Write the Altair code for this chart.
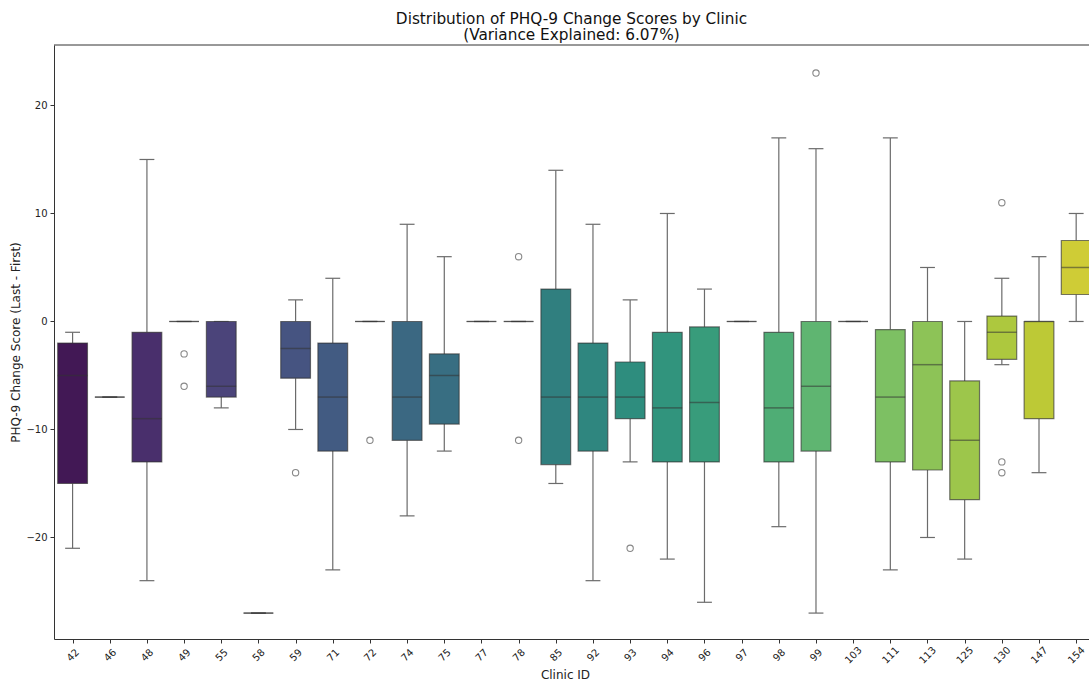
import altair as alt
import pandas as pd
import colorsys

# ---- data ----
clinics = ["42", "46", "48", "49", "55", "58", "59", "71", "72", "74", "75", "77", "78", "85",
           "92", "93", "94", "96", "97", "98", "99", "103", "111", "113", "125", "130", "147", "154"]
whislo = [-21, -7, -24, 0, -8, -27, -10, -23, 0, -18, -12, 0, 0, -15,
          -24, -13, -22, -26, 0, -19, -27, 0, -23, -20, -22, -4, -14, 0]
q1 = [-15, -7, -13, 0, -7, -27, -5.25, -12, 0, -11, -9.5, 0, 0, -13.25,
      -12, -9, -13, -13, 0, -13, -12, 0, -13, -13.75, -16.5, -3.5, -9, 2.5]
med = [-5, -7, -9, 0, -6, -27, -2.5, -7, 0, -7, -5, 0, 0, -7,
       -7, -7, -8, -7.5, 0, -8, -6, 0, -7, -4, -11, -1, 0, 5]
q3 = [-2, -7, -1, 0, 0, -27, 0, -2, 0, 0, -3, 0, 0, 3,
      -2, -3.75, -1, -0.5, 0, -1, 0, 0, -0.75, 0, -5.5, 0.5, 0, 7.5]
whishi = [-1, -7, 15, 0, 0, -27, 2, 4, 0, 9, 6, 0, 0, 14,
          9, 2, 10, 3, 0, 17, 16, 0, 17, 5, 0, 4, 6, 10]
outlier_clinic = ["49", "49", "59", "72", "78", "78", "93", "99", "130", "130", "130"]
outlier_value = [-3, -6, -14, -11, 6, -11, -21, 23, 11, -13, -14]

title_lines = ["Distribution of PHQ-9 Change Scores by Clinic", "(Variance Explained: 6.07%)"]

# ---- viridis palette (seaborn style, desaturated 0.75) ----
vir = ["#440154", "#471365", "#482475", "#463480", "#414487", "#3b528b", "#355f8d",
       "#2f6c8e", "#2a788e", "#25848e", "#21918c", "#1e9c89", "#22a884", "#2fb47c",
       "#44bf70", "#5ec962", "#7ad151", "#9bd93c", "#bddf26", "#dfe318", "#fde725"]


def h2r(h):
    return [int(h[i:i + 2], 16) / 255 for i in (1, 3, 5)]


def viridis(t):
    p = t * (len(vir) - 1)
    i = min(int(p), len(vir) - 2)
    f = p - i
    a, b = h2r(vir[i]), h2r(vir[i + 1])
    return [a[k] + (b[k] - a[k]) * f for k in range(3)]


def desat(rgb, prop=0.75):
    h, l, s = colorsys.rgb_to_hls(*rgb)
    r, g, b = colorsys.hls_to_rgb(h, l, s * prop)
    return "#%02x%02x%02x" % (round(r * 255), round(g * 255), round(b * 255))


n = len(clinics)
colors = [desat(viridis((i + 1) / (n + 1))) for i in range(n)]

df = pd.DataFrame({"idx": list(range(n)), "clinic": clinics, "whislo": whislo, "q1": q1,
                   "med": med, "q3": q3, "whishi": whishi, "color": colors})
out_df = pd.DataFrame({"idx": [clinics.index(c) for c in outlier_clinic], "value": outlier_value})

W, H = 1035, 594
FONT = "DejaVu Sans"
xs = alt.Scale(domain=[-0.5, -0.5 + W / 37.17], nice=False, zero=False)
ys = alt.Scale(domain=[-29.4, 25.6], nice=False, zero=False)
label_expr = "[" + ",".join("'%s'" % c for c in clinics) + "][datum.value]"

xaxis = alt.Axis(values=list(range(n)), labelExpr=label_expr, title="Clinic ID",
                 labelAngle=315, labelAlign="center", labelBaseline="middle",
                 labelPadding=12, tickSize=4, grid=False, labelOverlap=False, labelFlush=False,
                 domainColor="#333333", tickColor="#333333", labelColor="#222222",
                 titleColor="#222222", labelFontSize=10, titleFontSize=12, titleFontWeight="normal",
                 titleX=511, titleY=30, titleBaseline="top", titleAlign="center")
yaxis = alt.Axis(values=[-20, -10, 0, 10, 20], title="PHQ-9 Change Score (Last - First)",
                 tickSize=4, labelPadding=3, grid=False, domainColor="#333333",
                 tickColor="#333333", labelColor="#222222", titleColor="#222222",
                 labelFontSize=10, titleFontSize=12, titleFontWeight="normal", titlePadding=3)


def X(f):
    return alt.X(f, type="quantitative", scale=xs, axis=xaxis)


def Y(f):
    return alt.Y(f, type="quantitative", scale=ys, axis=yaxis)


base = alt.Chart(df).transform_calculate(
    x0="datum.idx - 0.4", x1="datum.idx + 0.4", c0="datum.idx - 0.2", c1="datum.idx + 0.2")

LINE = "#6b6b6b"
whisk_lo = base.mark_rule(color=LINE, strokeWidth=1.2, clip=True).encode(
    x=X("idx"), y=Y("whislo"), y2="q1:Q")
whisk_hi = base.mark_rule(color=LINE, strokeWidth=1.2, clip=True).encode(
    x=X("idx"), y=Y("q3"), y2="whishi:Q")
cap_lo = base.mark_rule(color=LINE, strokeWidth=1.2, clip=True).encode(
    x=X("c0"), x2="c1:Q", y=Y("whislo"))
cap_hi = base.mark_rule(color=LINE, strokeWidth=1.2, clip=True).encode(
    x=X("c0"), x2="c1:Q", y=Y("whishi"))
box = base.mark_rect(stroke="#333333", strokeOpacity=0.65, strokeWidth=1.2, clip=True).encode(
    x=X("x0"), x2="x1:Q", y=Y("q1"), y2="q3:Q",
    fill=alt.Fill("color:N", scale=None))
median = base.mark_rule(color="#333333", opacity=0.55, strokeWidth=1.5, clip=True).encode(
    x=X("x0"), x2="x1:Q", y=Y("med"))
outl = alt.Chart(out_df).mark_point(shape="circle", filled=False, size=40, color="#555555",
                                     strokeWidth=1.1, clip=True).encode(
    x=X("idx"), y=Y("value"))
top = alt.Chart(alt.Data(values=[{}])).mark_rule(color="#333333", strokeWidth=1).encode(
    x=alt.value(0), x2=alt.value(W), y=alt.value(0))

chart = alt.layer(whisk_lo, whisk_hi, cap_lo, cap_hi, box, median, outl, top).properties(
    width=W, height=H,
    title=alt.TitleParams(title_lines, font=FONT, fontSize=15.3, fontWeight="normal",
                          lineHeight=16, anchor="middle", offset=1, color="#111111"),
    autosize=alt.AutoSizeParams(type="none"),
    padding={"left": 54, "top": 45, "right": 0, "bottom": 43},
).configure(font=FONT).configure_view(stroke=None)

chart.save("out.html", embed_options={"renderer": "svg", "actions": False})
